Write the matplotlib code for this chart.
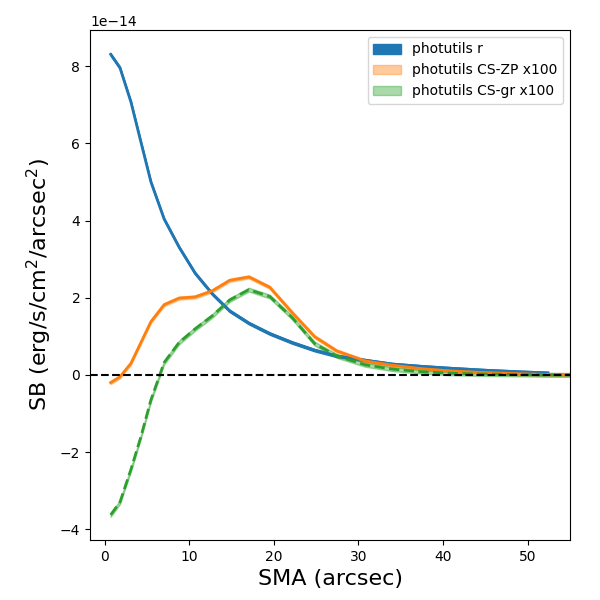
import numpy as np
import matplotlib
matplotlib.use("Agg")
import matplotlib.pyplot as plt

sma = [0.71, 1.81, 3.11, 4.29, 5.47, 7.03, 8.8, 10.68, 12.72, 14.77, 17.05, 19.52,
       22.14, 24.82, 27.44, 30.8, 34.0, 37.5, 41.0, 45.0, 49.0, 52.4, 56.0]
sb_r = [8.31, 7.96, 7.07, 6.03, 5.0, 4.04, 3.31, 2.64, 2.10, 1.66, 1.34, 1.07,
        0.84, 0.64, 0.49, 0.38, 0.28, 0.22, 0.17, 0.12, 0.08, 0.05, np.nan]
sb_zp = [-0.2, -0.05, 0.30, 0.84, 1.38, 1.82, 1.99, 2.02, 2.18, 2.45, 2.54, 2.27,
         1.62, 0.99, 0.62, 0.36, 0.25, 0.16, 0.10, 0.06, 0.03, 0.01, 0.0]
sb_gr = [-3.63, -3.3, -2.45, -1.6, -0.65, 0.32, 0.84, 1.19, 1.53, 1.94, 2.21, 2.03,
         1.49, 0.81, 0.49, 0.26, 0.15, 0.08, 0.04, 0.02, 0.01, 0.0, 0.0]
err_r = 0.03
err_zp = 0.04
err_gr = 0.05
scale = 1e-14

x = np.array(sma)
r = np.array(sb_r) * scale
zp = np.array(sb_zp) * scale
gr = np.array(sb_gr) * scale

fig, ax = plt.subplots(figsize=(6, 6), dpi=100)
fig.subplots_adjust(left=0.15, right=0.95, top=0.95, bottom=0.10)

ax.plot(x, r, color='C0', lw=2)
ax.fill_between(x, r - err_r * scale, r + err_r * scale, color='C0', label='photutils r')
ax.plot(x, zp, color='C1', lw=2)
ax.fill_between(x, zp - err_zp * scale, zp + err_zp * scale, color='C1', alpha=0.4,
                label='photutils CS-ZP x100')
ax.plot(x, gr, color='C2', lw=2, ls='--')
ax.fill_between(x, gr - err_gr * scale, gr + err_gr * scale, color='C2', alpha=0.4,
                label='photutils CS-gr x100')
ax.axhline(0, color='k', ls='--', lw=1.5)

ax.set_xlim(-1.73, 55)
ax.set_xlabel('SMA (arcsec)', fontsize=16)
ax.set_ylabel('SB (erg/s/cm$^2$/arcsec$^2$)', fontsize=16)
ax.legend(loc='upper right')

fig.savefig('out.png')
